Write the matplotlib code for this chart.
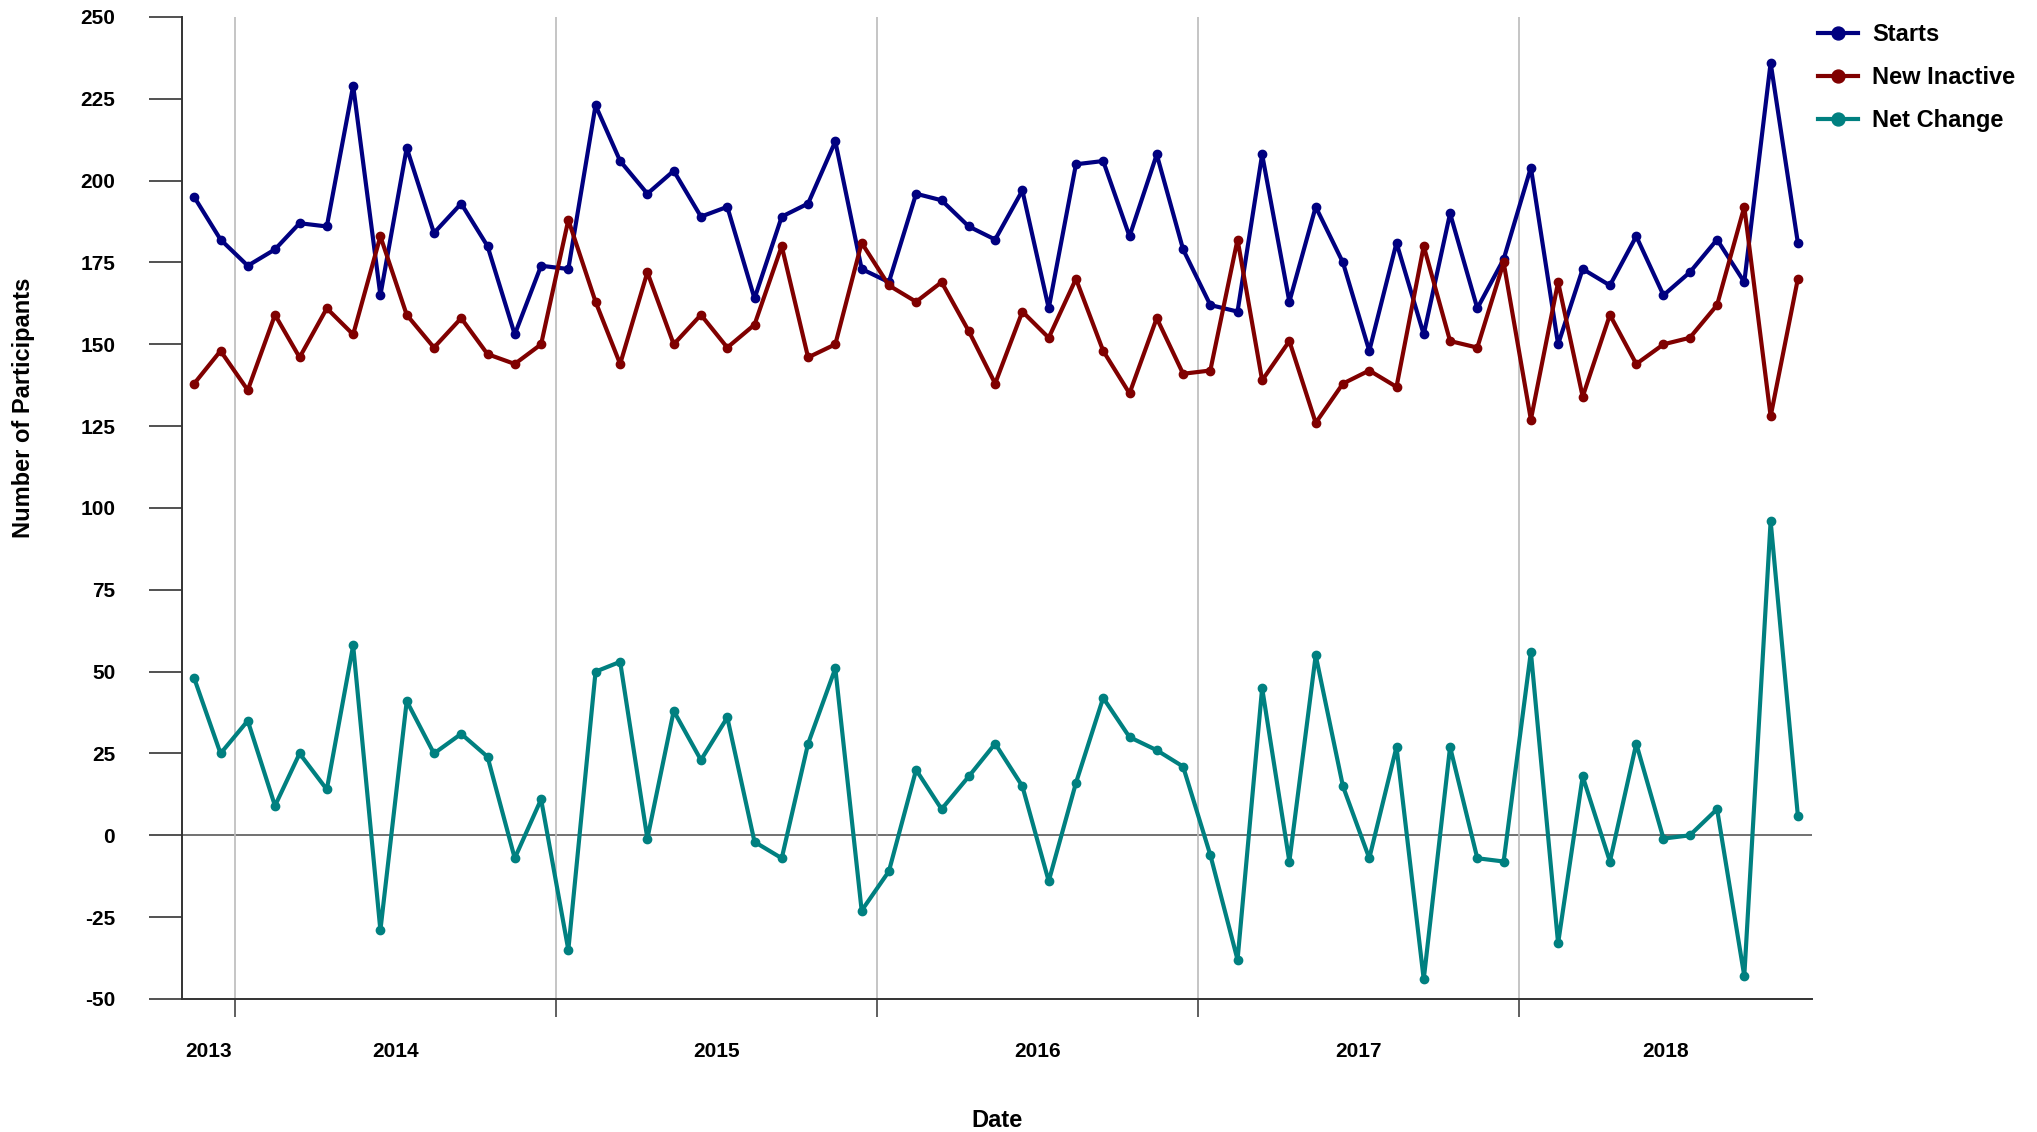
import matplotlib.pyplot as plt
import pandas as pd

# monthly figures, Nov 2013 .. Nov 2018
months = pd.date_range("2013-11-01", "2018-11-01", freq="MS")

starts = [195, 182, 174, 179, 187, 186, 229, 165, 210, 184, 193, 180, 153, 174, 173, 223,
          206, 196, 203, 189, 192, 164, 189, 193, 212, 173, 169, 196, 194, 186, 182,
          197, 161, 205, 206, 183, 208, 179, 162, 160, 208, 163, 192, 175, 148, 181,
          153, 190, 161, 176, 204, 150, 173, 168, 183, 165, 172, 182, 169, 236, 181]
new_inactive = [138, 148, 136, 159, 146, 161, 153, 183, 159, 149, 158, 147, 144, 150, 188, 163,
                144, 172, 150, 159, 149, 156, 180, 146, 150, 181, 168, 163, 169, 154, 138,
                160, 152, 170, 148, 135, 158, 141, 142, 182, 139, 151, 126, 138, 142, 137,
                180, 151, 149, 175, 127, 169, 134, 159, 144, 150, 152, 162, 192, 128, 170]
net_change = [48, 25, 35, 9, 25, 14, 58, -29, 41, 25, 31, 24, -7, 11, -35, 50,
              53, -1, 38, 23, 36, -2, -7, 28, 51, -23, -11, 20, 8, 18, 28,
              15, -14, 16, 42, 30, 26, 21, -6, -38, 45, -8, 55, 15, -7, 27,
              -44, 27, -7, -8, 56, -33, 18, -8, 28, -1, 0, 8, -43, 96, 6]

plt.rcParams['font.family'] = ['Liberation Sans', 'DejaVu Sans']
plt.rcParams['font.weight'] = 'bold'
plt.rcParams['axes.unicode_minus'] = False

fig = plt.figure(figsize=(20.37, 11.32), dpi=100)
ax = fig.add_axes([0.0893, 0.1175, 0.8002, 0.8675])

x = months + pd.Timedelta(days=14)
ax.plot(x, starts, color='#000080', lw=3.0, marker='o', ms=6, label='Starts')
ax.plot(x, new_inactive, color='#800000', lw=3.0, marker='o', ms=6, label='New Inactive')
ax.plot(x, net_change, color='#008080', lw=3.0, marker='o', ms=6, label='Net Change')

x0, x1 = pd.Timestamp("2013-11-01"), pd.Timestamp("2018-12-01")
ax.set_xlim(x0, x1)
ax.set_ylim(-50, 250)
ax.set_yticks(range(-50, 251, 25))

# year boundaries as major ticks, year names centred on the visible part
bounds = [pd.Timestamp(f"{y}-01-01") for y in range(2014, 2019)]
ax.set_xticks(bounds)
ax.set_xticklabels([])
mids, names = [], []
for y in range(2013, 2019):
    a = max(x0, pd.Timestamp(f"{y}-01-01"))
    b = min(x1, pd.Timestamp(f"{y + 1}-01-01"))
    mids.append(a + (b - a) / 2)
    names.append(str(y))
ax.set_xticks(mids, minor=True)
ax.set_xticklabels(names, minor=True)

ax.tick_params(axis='x', which='major', length=13, width=1.2, color='#444444')
ax.tick_params(axis='x', which='minor', length=0, pad=31, labelsize=15)
ax.tick_params(axis='y', length=24, width=1.2, color='#333333', pad=24, labelsize=15)

ax.grid(axis='x', which='major', color='#bbbbbb', lw=1.2)
ax.axhline(0, color='#666666', lw=1.3, zorder=1)

for s in ['top', 'right']:
    ax.spines[s].set_visible(False)
for s in ['left', 'bottom']:
    ax.spines[s].set_color('#333333')
    ax.spines[s].set_linewidth(1.4)

fig.text(0.4894, 0.0105, 'Date', ha='center', va='center', fontsize=17, fontweight='bold')
fig.text(0.0113, 0.640, 'Number of Participants', ha='center', va='center',
         rotation=90, fontsize=17, fontweight='bold')

ax.legend(loc='upper left', bbox_to_anchor=(0.8925, 0.9795), bbox_transform=fig.transFigure,
          frameon=False, fontsize=17, handlelength=1.7, handletextpad=0.6,
          labelspacing=0.85, borderpad=0, borderaxespad=0, markerscale=1.55)

fig.savefig('out.png', dpi=100)
